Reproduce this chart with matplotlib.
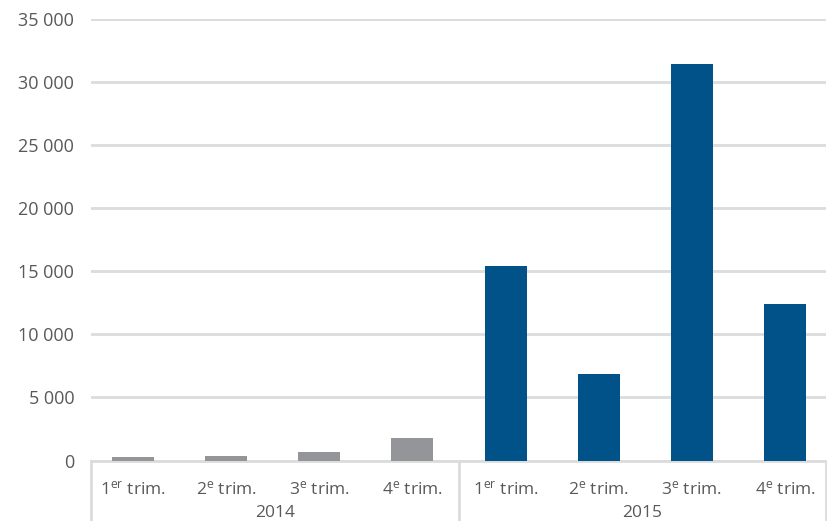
import matplotlib
matplotlib.use("Agg")
import matplotlib.pyplot as plt
from matplotlib.ticker import FuncFormatter, MultipleLocator

plt.rcParams['font.family'] = ['Open Sans', 'DejaVu Sans']
plt.rcParams['mathtext.fontset'] = 'custom'
plt.rcParams['mathtext.rm'] = 'Open Sans'
plt.rcParams['mathtext.it'] = 'Open Sans'

years = ["2014", "2015"]
quarter_labels = [r"1$^{\mathrm{er}}$ trim.", r"2$^{\mathrm{e}}$ trim.",
                  r"3$^{\mathrm{e}}$ trim.", r"4$^{\mathrm{e}}$ trim."]
values_2014 = [280, 360, 660, 1780]
values_2015 = [15420, 6860, 31440, 12410]

grey_bar = "#939598"
blue_bar = "#005288"
text_col = "#595959"
grid_col = "#dcdcdc"

W, H = 828, 521
fig = plt.figure(figsize=(W / 100, H / 100), dpi=100)
left, right, top, bottom = 91, 826, 19, 460.5
ax = fig.add_axes([left / W, 1 - bottom / H, (right - left) / W, (bottom - top) / H])

n = len(quarter_labels)
x14 = list(range(n))
x15 = [i + n for i in range(n)]
bw = 0.451
ax.bar(x14, values_2014, width=bw, color=grey_bar, zorder=3)
ax.bar(x15, values_2015, width=bw, color=blue_bar, zorder=3)

x_lo, x_hi = -0.451, 2 * n - 1 + 0.44
ax.set_xlim(x_lo, x_hi)
ax.set_ylim(0, 35000)
ax.yaxis.set_major_locator(MultipleLocator(5000))
ax.yaxis.set_major_formatter(FuncFormatter(lambda v, p: f"{int(v):,}".replace(",", " ")))
ax.grid(axis="y", color=grid_col, linewidth=2, zorder=0)
ax.set_axisbelow(True)
for s in ["top", "right", "left"]:
    ax.spines[s].set_visible(False)
ax.spines["bottom"].set_color(grid_col)
ax.spines["bottom"].set_linewidth(2)
ax.tick_params(axis="y", length=0, pad=12, labelsize=13, labelcolor=text_col)
ax.tick_params(axis="x", length=0, labelbottom=False)

# two-level category axis
trans = ax.get_xaxis_transform()
span = bottom - top
for i, lab in enumerate(quarter_labels * 2):
    ax.text(i, -(489 - bottom) / span, lab, transform=trans,
            ha="center", va="center", fontsize=12.5, color=text_col)
separators = [x_lo, n - 0.5, x_hi]
for g, yr in enumerate(years):
    ax.text((separators[g] + separators[g + 1]) / 2, -(513 - bottom) / span, yr,
            transform=trans, ha="center", va="center", fontsize=12.5, color=text_col)
for xs in separators:
    ax.plot([xs, xs], [0, -(H - bottom) / span], transform=trans,
            color=grid_col, linewidth=2, clip_on=False)

fig.savefig("out.png", dpi=100, facecolor="white")
